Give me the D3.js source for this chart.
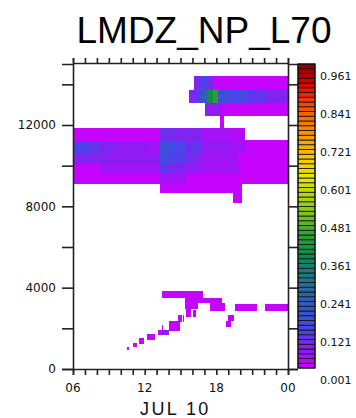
<!DOCTYPE html>
<html>
<head>
<meta charset="utf-8">
<script src="https://cdn.jsdelivr.net/npm/d3@7"></script>
<style>
  html, body { margin: 0; padding: 0; background: #fff; }
  svg { display: block; }
</style>
</head>
<body>
<svg id="chart" width="356" height="418"></svg>
<script>
// Time axis (hours, 06 UTC to 00 UTC next day) and height axis (m)
const timeTicks = [6, 12, 18, 24];
const timeTickLabels = ["06", "12", "18", "00"];
const dateLabel = "JUL 10";
const heightTicks = [0, 4000, 8000, 12000];
const title = "LMDZ_NP_L70";

// Colour bar levels
const levelLabels = ["0.001", "0.121", "0.241", "0.361", "0.481", "0.601", "0.721", "0.841", "0.961"];
const levelMin = 0.001, levelMax = 0.961, levelCount = 64;
const paletteStops = ["#cc00ff", "#8a1ef2", "#4a44ea", "#3556cc", "#2a66a8", "#187a80", "#0e8a50",
  "#30a030", "#78c020", "#b0d410", "#e6e600", "#f8c800", "#f8a000", "#f87400", "#f84000",
  "#d80000", "#8c0000"];

// Cells: [start hour, end hour, bottom m, top m, value]
const upperCloud = [
  [16.13, 16.55, 13700, 14400, 0.075], [16.55, 17.2, 13700, 14400, 0.11],
  [17.2, 17.7, 13700, 14400, 0.09], [17.7, 24, 13700, 14400, 0.01],
  [15.7, 16.2, 13100, 13700, 0.07], [16.2, 16.8, 13100, 13700, 0.11],
  [16.8, 17.2, 13100, 13700, 0.22], [17.2, 17.7, 13100, 13700, 0.37],
  [17.7, 18.15, 13100, 13700, 0.42], [18.15, 18.9, 13100, 13700, 0.16],
  [18.9, 20.6, 13100, 13700, 0.125], [20.6, 22.1, 13100, 13700, 0.095],
  [22.1, 24, 13100, 13700, 0.075],
  [17.05, 18.5, 12450, 13100, 0.05], [18.5, 24, 12450, 13100, 0.01],
  [18.3, 18.65, 11850, 12450, 0.01]
];
const middleCloud = [
  [6, 13.3, 11200, 11850, 0.01], [13.3, 14.5, 11200, 11850, 0.09],
  [14.5, 15.5, 11200, 11850, 0.075], [15.5, 16.8, 11200, 11850, 0.065],
  [16.8, 19.1, 11200, 11850, 0.035], [19.1, 20.4, 11200, 11850, 0.02],
  [6, 6.33, 10600, 11200, 0.13], [6.33, 7.4, 10600, 11200, 0.12],
  [7.4, 8.3, 10600, 11200, 0.10], [8.3, 9.5, 10600, 11200, 0.075],
  [9.5, 12.3, 10600, 11200, 0.05], [12.3, 13.3, 10600, 11200, 0.035],
  [13.3, 14.1, 10600, 11200, 0.16], [14.1, 15.5, 10600, 11200, 0.13],
  [15.5, 16.0, 10600, 11200, 0.085], [16.0, 16.8, 10600, 11200, 0.10],
  [16.8, 19.3, 10600, 11200, 0.05], [19.3, 20.4, 10600, 11200, 0.035],
  [20.4, 24, 10600, 11250, 0.01],
  [6, 9.1, 10100, 10600, 0.075], [9.1, 13.3, 10100, 10600, 0.05],
  [13.3, 14.1, 10100, 10600, 0.15], [14.1, 15.5, 10100, 10600, 0.12],
  [15.5, 16.2, 10100, 10600, 0.08], [16.2, 17.0, 10100, 10600, 0.055],
  [17.0, 19.8, 10100, 10600, 0.045], [19.8, 24, 10100, 10600, 0.01],
  [6, 8.3, 9600, 10100, 0.015], [8.3, 13.3, 9600, 10100, 0.035],
  [13.3, 14.1, 9600, 10100, 0.095], [14.1, 15.5, 9600, 10100, 0.075],
  [15.5, 16.7, 9600, 10100, 0.05], [16.7, 20.0, 9600, 10100, 0.035],
  [20.0, 24, 9600, 10100, 0.01],
  [6, 13.3, 9100, 9600, 0.01], [13.3, 15.5, 9100, 9600, 0.04],
  [15.5, 24, 9100, 9600, 0.01],
  [13.3, 20.15, 8650, 9100, 0.01],
  [19.4, 20.15, 8150, 8650, 0.01]
];
const lowCloud = [
  [13.45, 16.9, 3500, 3850, 0.01], [15.4, 18.5, 3250, 3500, 0.01],
  [17.5, 18.75, 2850, 3250, 0.01], [15.4, 16.5, 2950, 3250, 0.01],
  [15.45, 15.9, 2560, 2950, 0.01], [16.05, 16.3, 2560, 2900, 0.01],
  [19.55, 21.4, 2850, 3200, 0.01], [22.1, 24, 2850, 3200, 0.01],
  [19.0, 19.5, 2360, 2650, 0.01], [18.8, 19.25, 2070, 2360, 0.01],
  [14.8, 15.15, 2310, 2650, 0.01], [15.22, 15.32, 2310, 2650, 0.01],
  [14.05, 14.95, 1870, 2360, 0.01], [13.42, 13.55, 1920, 2160, 0.01],
  [13.1, 13.35, 1670, 1920, 0.01], [13.35, 14.05, 1670, 1920, 0.075],
  [12.2, 12.85, 1430, 1720, 0.01], [11.55, 11.95, 1230, 1520, 0.01],
  [11.0, 11.35, 1080, 1280, 0.01], [10.5, 10.7, 935, 1080, 0.01]
];

const svg = d3.select("#chart");
const plot = { left: 73, right: 288, top: 64, bottom: 369 };

const x = d3.scaleLinear().domain([6, 24]).range([plot.left, plot.right]);
const y = d3.scaleLinear().domain([0, 15000]).range([plot.bottom, plot.top]);

// Discrete palette: 64 bins between levelMin and levelMax
const palette = d3.piecewise(d3.interpolateRgb, paletteStops);
const step = (levelMax - levelMin) / levelCount;
const binColor = i => palette((i + 0.5) / levelCount);
const colorOf = v => {
  const i = Math.max(0, Math.min(levelCount - 1, Math.floor((v - levelMin) / step)));
  return binColor(i);
};

// Title
svg.append("text")
  .attr("x", 204).attr("y", 43)
  .attr("text-anchor", "middle")
  .attr("font-family", "'Liberation Sans', Arial, sans-serif")
  .attr("font-size", 37)
  .attr("fill", "#000")
  .text(title);

// Cells
const cells = upperCloud.concat(middleCloud, lowCloud);
svg.append("g").selectAll("rect")
  .data(cells)
  .join("rect")
  .attr("x", d => x(d[0]))
  .attr("y", d => y(d[3]))
  .attr("width", d => x(d[1]) - x(d[0]))
  .attr("height", d => y(d[2]) - y(d[3]))
  .attr("fill", d => colorOf(d[4]))
  .attr("shape-rendering", "crispEdges");

// Axes
const axisColor = "#222";
const hourTicks = d3.range(6, 25, 1);
const minorHeights = d3.range(0, 15000, 2000);

const bottomAxis = d3.axisBottom(x).tickValues(hourTicks).tickSize(6).tickFormat("");
svg.append("g").attr("transform", `translate(0,${plot.bottom})`).call(bottomAxis);

const topAxis = d3.axisTop(x).tickValues(hourTicks).tickSize(5).tickFormat("");
svg.append("g").attr("transform", `translate(0,${plot.top - 1})`).call(topAxis);

const leftAxis = d3.axisLeft(y).tickValues(minorHeights).tickSize(11).tickFormat("");
svg.append("g").attr("transform", `translate(${plot.left},0)`).call(leftAxis);

const rightAxis = d3.axisRight(y).tickValues(minorHeights).tickSize(10).tickFormat("");
svg.append("g").attr("transform", `translate(${plot.right},0)`).call(rightAxis);

svg.selectAll(".domain, .tick line")
  .attr("stroke", axisColor)
  .attr("stroke-width", 1.6);
svg.selectAll(".domain").attr("fill", "none");

// Height labels
svg.append("g").selectAll("text")
  .data(heightTicks)
  .join("text")
  .attr("x", 56)
  .attr("y", d => y(d))
  .attr("dy", "0.36em")
  .attr("text-anchor", "end")
  .attr("font-family", "'DejaVu Sans', sans-serif")
  .attr("font-size", 12)
  .attr("fill", "#111")
  .text(d => d);

// Time labels
svg.append("g").selectAll("text")
  .data(timeTicks)
  .join("text")
  .attr("x", d => x(d))
  .attr("y", 392)
  .attr("text-anchor", "middle")
  .attr("font-family", "'DejaVu Sans', sans-serif")
  .attr("font-size", 12)
  .attr("fill", "#111")
  .text((d, i) => timeTickLabels[i]);

svg.append("text")
  .attr("x", 140).attr("y", 415)
  .attr("font-family", "'Liberation Sans', Arial, sans-serif")
  .attr("font-size", 18)
  .attr("letter-spacing", 2.4)
  .attr("fill", "#111")
  .text(dateLabel);

// Colour bar
const bar = { left: 298, width: 17, top: 64, bottom: 368 };
const barY = d3.scaleLinear().domain([levelMin, levelMax]).range([bar.bottom, bar.top]);
const boxes = d3.range(levelCount);
svg.append("g").selectAll("rect")
  .data(boxes)
  .join("rect")
  .attr("x", bar.left)
  .attr("y", i => barY(levelMin + (i + 1) * step))
  .attr("width", bar.width)
  .attr("height", i => barY(levelMin + i * step) - barY(levelMin + (i + 1) * step))
  .attr("fill", i => binColor(i))
  .attr("stroke", "#111")
  .attr("stroke-width", 0.8);

svg.append("rect")
  .attr("x", bar.left).attr("y", bar.top)
  .attr("width", bar.width).attr("height", bar.bottom - bar.top)
  .attr("fill", "none").attr("stroke", "#111").attr("stroke-width", 1.2);

svg.append("g").selectAll("text")
  .data(levelLabels)
  .join("text")
  .attr("x", 320)
  .attr("y", d => barY(+d) + 12)
  .attr("dy", "0.36em")
  .attr("font-family", "'DejaVu Sans', sans-serif")
  .attr("font-size", 11)
  .attr("fill", "#111")
  .text(d => d);
</script>
</body>
</html>
